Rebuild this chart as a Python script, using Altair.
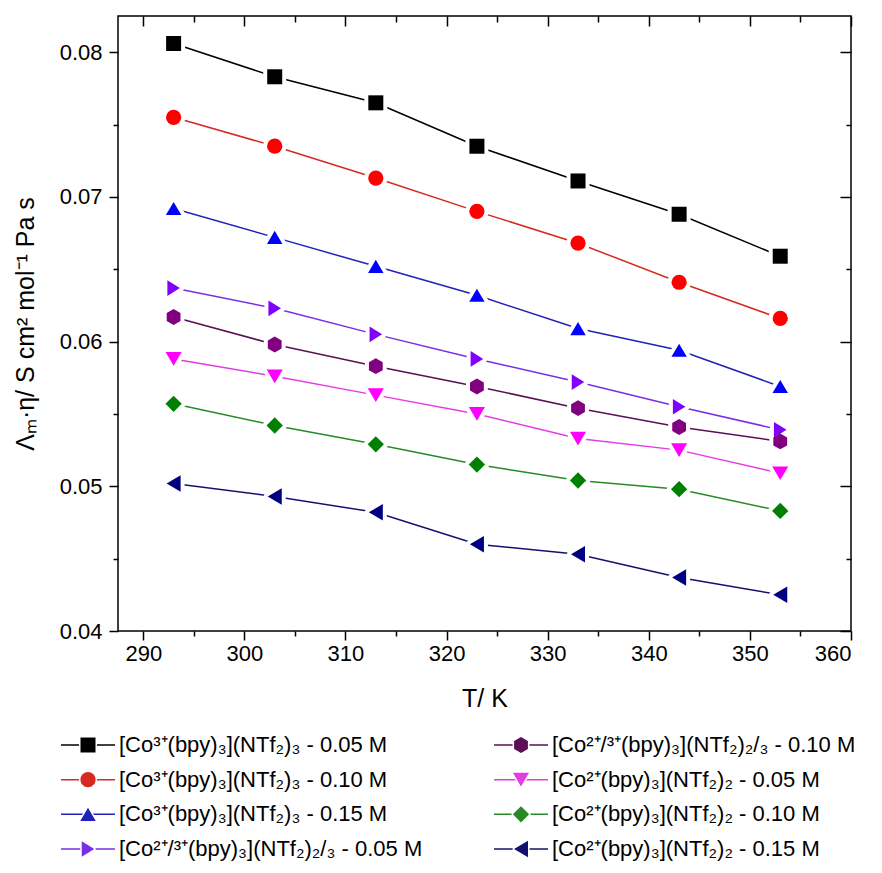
import altair as alt
import pandas as pd

# ---------------- data ----------------
temperatures = [293, 303, 313, 323, 333, 343, 353]

labels = [
    "[Co³⁺(bpy)₃](NTf₂)₃ - 0.05 M",
    "[Co³⁺(bpy)₃](NTf₂)₃ - 0.10 M",
    "[Co³⁺(bpy)₃](NTf₂)₃ - 0.15 M",
    "[Co²⁺/³⁺(bpy)₃](NTf₂)₂/₃ - 0.05 M",
    "[Co²⁺/³⁺(bpy)₃](NTf₂)₂/₃ - 0.10 M",
    "[Co²⁺(bpy)₃](NTf₂)₂ - 0.05 M",
    "[Co²⁺(bpy)₃](NTf₂)₂ - 0.10 M",
    "[Co²⁺(bpy)₃](NTf₂)₂ - 0.15 M",
]

co3_005 = [0.0806, 0.0783, 0.0765, 0.0735, 0.0711, 0.0688, 0.0659]
co3_010 = [0.0755, 0.0735, 0.0713, 0.0690, 0.0668, 0.0641, 0.0616]
co3_015 = [0.0692, 0.0672, 0.0652, 0.0632, 0.0609, 0.0594, 0.0569]
co23_005 = [0.0637, 0.0623, 0.0605, 0.0588, 0.0572, 0.0555, 0.0539]
co23_010 = [0.0617, 0.0598, 0.0583, 0.0569, 0.0554, 0.0541, 0.0531]
co2_005 = [0.0588, 0.0576, 0.0563, 0.0550, 0.0533, 0.0525, 0.0509]
co2_010 = [0.0557, 0.0542, 0.0529, 0.0515, 0.0504, 0.0498, 0.0483]
co2_015 = [0.0502, 0.0493, 0.0482, 0.0460, 0.0453, 0.0437, 0.0425]

series_values = [co3_005, co3_010, co3_015, co23_005, co23_010, co2_005, co2_010, co2_015]

x_major = [290, 300, 310, 320, 330, 340, 350, 360]
x_minor = [295, 305, 315, 325, 335, 345, 355]
y_major = [0.04, 0.05, 0.06, 0.07, 0.08]
y_minor = [0.045, 0.055, 0.065, 0.075]

# ---------------- styles ----------------
marker_colors = ["#000000", "#FF0000", "#0000FF", "#8000FF", "#800080", "#FF00FF", "#008000", "#000080"]
line_colors = ["#000000", "#D42A22", "#2121B8", "#7A2DE6", "#5C0F55", "#E53BE5", "#278A27", "#12126E"]
shape_paths = [
    "M-1,-1H1V1H-1Z",                                   # square
    "circle",                                           # circle
    "M0,-0.85L1,0.85L-1,0.85Z",                         # triangle up
    "M0.8,0L-0.8,-1L-0.8,1Z",                           # triangle right
    "M0,-1L0.87,-0.5L0.87,0.5L0,1L-0.87,0.5L-0.87,-0.5Z",  # hexagon
    "M0,0.85L1,-0.85L-1,-0.85Z",                        # triangle down
    "M0,-1L1,0L0,1L-1,0Z",                              # diamond
    "M-0.85,0L0.85,-1L0.85,1Z",                         # triangle left
]
marker_sizes = [225, 272, 400, 372, 324, 400, 420, 361]
legend_sizes = [s * 0.62 for s in marker_sizes]

FONT = "Liberation Sans"
W, H = 733, 615
XD = [287.5, 360]
YD = [0.04, 0.0825]

rows = []
for lab, vals in zip(labels, series_values):
    for t, v in zip(temperatures, vals):
        rows.append({"series": lab, "T": t, "v": v})
df = pd.DataFrame(rows)


def xs():
    return alt.Scale(domain=XD, nice=False, zero=False)


def ys():
    return alt.Scale(domain=YD, nice=False, zero=False)


common_axis = dict(grid=False, domain=False, tickColor="black", tickWidth=1.5,
                   labelFont=FONT, titleFont=FONT)

ax_x_bottom = alt.Axis(orient="bottom", values=x_major, format="d", tickSize=9,
                       labelFontSize=22, labelPadding=3, labelColor="black",
                       title="T/ K", titleFontSize=25, titleFontWeight="normal",
                       titlePadding=22, titleColor="black", **common_axis)
ax_x_bottom_minor = alt.Axis(orient="bottom", values=x_minor, tickSize=5, labels=False,
                             title="", **common_axis)
ax_x_top = alt.Axis(orient="top", values=x_major, tickSize=10, offset=-10, labels=False,
                    title="", **common_axis)
ax_x_top_minor = alt.Axis(orient="top", values=x_minor, tickSize=6, offset=-6, labels=False,
                          title="", **common_axis)

ax_y_left = alt.Axis(orient="left", values=y_major, format=".2f", tickSize=9,
                     labelFontSize=22, labelPadding=7, labelColor="black",
                     title="Λₘ·η/ S cm² mol⁻¹ Pa s", titleFontSize=25,
                     titleFontWeight="normal", titlePadding=21, titleColor="black",
                     **common_axis)
ax_y_left_minor = alt.Axis(orient="left", values=y_minor, tickSize=5, labels=False,
                           title="", **common_axis)
ax_y_right = alt.Axis(orient="right", values=y_major, tickSize=11, offset=-11, labels=False,
                      title="", **common_axis)
ax_y_right_minor = alt.Axis(orient="right", values=y_minor, tickSize=5, offset=-5, labels=False,
                            title="", **common_axis)

base = alt.Chart(df)

lines = base.mark_line(strokeWidth=1.5).encode(
    x=alt.X("T:Q", scale=xs(), axis=ax_x_bottom),
    y=alt.Y("v:Q", scale=ys(), axis=ax_y_left),
    color=alt.Color("series:N", scale=alt.Scale(domain=labels, range=line_colors), legend=None),
    detail="series:N",
)

halos = base.mark_point(filled=True, fill="white", stroke="white", strokeWidth=8,
                        strokeJoin="round", opacity=1).encode(
    x=alt.X("T:Q", scale=xs(), axis=ax_x_bottom_minor),
    y=alt.Y("v:Q", scale=ys(), axis=ax_y_left_minor),
    shape=alt.Shape("series:N", scale=alt.Scale(domain=labels, range=shape_paths), legend=None),
    size=alt.Size("series:O", scale=alt.Scale(domain=labels, range=marker_sizes), legend=None),
)

markers = base.mark_point(filled=True, opacity=1).encode(
    x=alt.X("T:Q", scale=xs(), axis=ax_x_top),
    y=alt.Y("v:Q", scale=ys(), axis=ax_y_right),
    color=alt.Color("series:N", scale=alt.Scale(domain=labels, range=marker_colors), legend=None),
    shape=alt.Shape("series:N", scale=alt.Scale(domain=labels, range=shape_paths), legend=None),
    size=alt.Size("series:O", scale=alt.Scale(domain=labels, range=marker_sizes), legend=None),
)

extra_axes = base.mark_point(opacity=0).encode(
    x=alt.X("T:Q", scale=xs(), axis=ax_x_top_minor),
    y=alt.Y("v:Q", scale=ys(), axis=ax_y_right_minor),
)

main = alt.layer(lines, halos, markers, extra_axes).resolve_scale(
    x="independent", y="independent", color="independent"
).properties(width=W, height=H,
             view=alt.ViewBackground(stroke="black", strokeWidth=1.5))

# ---------------- legend panel ----------------
leg_rows = []
for i, lab in enumerate(labels):
    leg_rows.append({"series": lab, "col": i // 4, "row": i % 4})
leg_df = pd.DataFrame(leg_rows)

lx = alt.Scale(domain=[0, 1], range=[-30, 403])
ly = alt.Scale(domain=[0, 3], range=[22, 126])

leg_base = alt.Chart(leg_df)
leg_lines = leg_base.mark_rule(strokeWidth=1.5, xOffset=-27, x2Offset=27).encode(
    x=alt.X("col:Q", scale=lx, axis=None),
    x2="col:Q",
    y=alt.Y("row:Q", scale=ly, axis=None),
    color=alt.Color("series:N", scale=alt.Scale(domain=labels, range=line_colors), legend=None),
)
leg_halo = leg_base.mark_point(filled=True, fill="white", stroke="white", strokeWidth=3,
                               strokeJoin="round", opacity=1).encode(
    x=alt.X("col:Q", scale=lx, axis=None),
    y=alt.Y("row:Q", scale=ly, axis=None),
    shape=alt.Shape("series:N", scale=alt.Scale(domain=labels, range=shape_paths), legend=None),
    size=alt.Size("series:O", scale=alt.Scale(domain=labels, range=legend_sizes), legend=None),
)
leg_marks = leg_base.mark_point(filled=True, opacity=1).encode(
    x=alt.X("col:Q", scale=lx, axis=None),
    y=alt.Y("row:Q", scale=ly, axis=None),
    color=alt.Color("series:N", scale=alt.Scale(domain=labels, range=marker_colors), legend=None),
    shape=alt.Shape("series:N", scale=alt.Scale(domain=labels, range=shape_paths), legend=None),
    size=alt.Size("series:O", scale=alt.Scale(domain=labels, range=legend_sizes), legend=None),
)
leg_text = leg_base.mark_text(align="left", baseline="middle", dx=31, fontSize=22,
                              font=FONT, color="black").encode(
    x=alt.X("col:Q", scale=lx, axis=None),
    y=alt.Y("row:Q", scale=ly, axis=None),
    text="series:N",
)

legend_panel = alt.layer(leg_lines, leg_halo, leg_marks, leg_text).properties(
    width=W, height=130, view=alt.ViewBackground(stroke="transparent")
)

chart = alt.vconcat(main, legend_panel, spacing=10).configure(
    font=FONT, padding={"left": 4, "top": 6, "right": 4, "bottom": 0}
).configure_view(strokeWidth=1.5)

chart.save("out.html", embed_options={"renderer": "svg", "actions": False})
